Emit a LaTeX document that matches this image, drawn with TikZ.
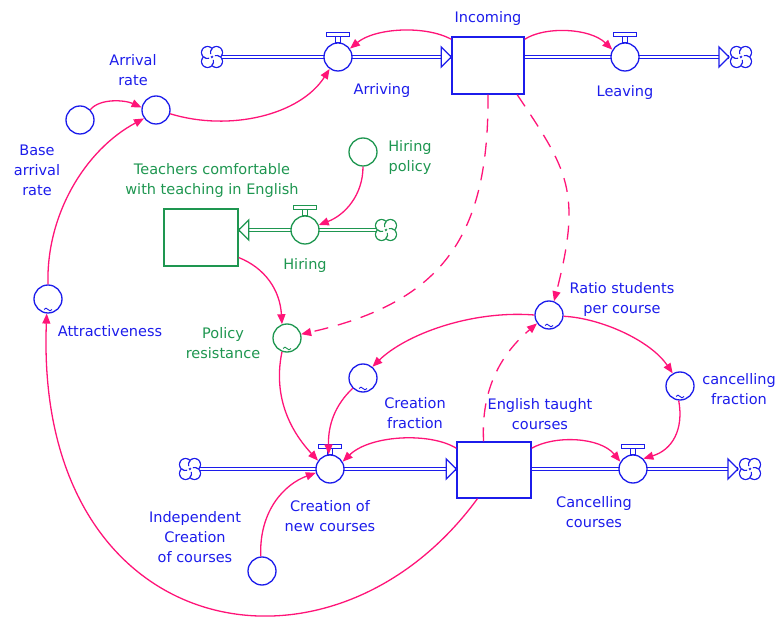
\documentclass[tikz,border=0pt]{standalone}
\usepackage{fontspec}
\setmainfont{DejaVu Sans}
\usetikzlibrary{arrows.meta,backgrounds}
\definecolor{vblue}{RGB}{28,28,235}
\definecolor{vgreen}{RGB}{30,150,80}
\definecolor{vpink}{RGB}{255,20,120}
\tikzset{
 auxb/.style={circle, draw=vblue, line width=1.3pt, minimum size=28pt, inner sep=0pt, fill=white},
 auxg/.style={auxb, draw=vgreen},
 stockb/.style={rectangle, draw=vblue, line width=1.4pt, minimum width=72pt, minimum height=57pt, inner sep=0pt, fill=white},
 stockg/.style={stockb, draw=vgreen},
 lblb/.style={text=vblue, align=center, font=\fontsize{14.5}{20}\selectfont, inner sep=0pt},
 lblg/.style={lblb, text=vgreen},
 link/.style={draw=vpink, line width=1.3pt, -{Triangle[length=10pt,width=8pt]}},
 dlink/.style={link, dash pattern=on 14pt off 10pt},
 pipeb/.style={draw=vblue, double=white, double distance=2.4pt, line width=1.2pt},
 pipeg/.style={pipeb, draw=vgreen},
}
\newcommand\vhandle[2]{%
 \draw[#2, line width=1.1pt, fill=white] ([xshift=-2.5pt]#1.north) rectangle ([xshift=2.5pt,yshift=6pt]#1.north);
 \draw[#2, line width=1.1pt, fill=white] ([xshift=-11.5pt,yshift=6pt]#1.north) rectangle ([xshift=11.5pt,yshift=10pt]#1.north);}
\newcommand\vcloud[2]{%
 \begin{scope}[shift={(#1)}, x=1pt, y=1pt]
  \foreach \a in {45,135,225,315} {\draw[#2, line width=1.3pt, fill=white] (\a:6.3) circle[radius=6];}
  \foreach \a in {45,135,225,315} {\fill[white] (\a:6.3) circle[radius=5.35];}
  \foreach \a in {45,135,225,315} {\draw[#2, line width=1.2pt] ([shift={(\a+95:6)}]\a:6.3) arc[start angle=\a+95, end angle=\a+150, radius=6];}
 \end{scope}}
\newcommand\headright[2]{\draw[#2, line width=1.3pt, fill=white, line join=miter] (#1) -- ++(-10pt,10pt) -- ++(0pt,-20pt) -- cycle;}
\newcommand\headleft[2]{\draw[#2, line width=1.3pt, fill=white, line join=miter] (#1) -- ++(10pt,10pt) -- ++(0pt,-20pt) -- cycle;}
\newcommand\vtilde[2]{\draw[#2, line width=0.9pt] ([xshift=-4pt,yshift=-10.5pt]#1.center) sin ++(2pt,1.3pt) cos ++(2pt,-1.3pt) sin ++(2pt,-1.3pt) cos ++(2pt,1.3pt);}
\begin{document}
\begin{tikzpicture}[x=1pt,y=-1pt]
\useasboundingbox (0,0) rectangle (777,617);
% ---------- nodes ----------
\coordinate (ctl) at (212,57);
\node[auxb] (arr) at (338,57) {};
\node[stockb] (inc) at (488,65.5) {};
\node[auxb] (lea) at (625,57) {};
\coordinate (ctr) at (741,57);
\coordinate (ctrtip) at (729,57);
\node[auxb] (ar) at (156,110) {};
\node[auxb] (base) at (80,120) {};
\node[auxb] (att) at (48,299) {};
\node[stockg, minimum width=74pt] (tea) at (201,237.5) {};
\node[auxg] (hir) at (305,230) {};
\node[auxg] (hp) at (363,152) {};
\coordinate (cg) at (386,230);
\node[auxg] (pr) at (287,338) {};
\coordinate (cbl) at (190,469);
\node[auxb] (cr) at (330,469) {};
\node[stockb, minimum width=74pt, minimum height=56pt] (eng) at (494,470) {};
\node[auxb] (cv) at (633,469) {};
\coordinate (cbr) at (750,469);
\coordinate (cbrtip) at (738,469);
\node[auxb] (cf) at (363,378) {};
\node[auxb] (rs) at (549,315) {};
\node[auxb] (cnf) at (680,386) {};
\node[auxb] (ind) at (262,571) {};
% ---------- pipes ----------
\begin{scope}[on background layer]
\draw[pipeb] (ctl) -- (arr.center) -- (arr -| inc.west);
\draw[pipeb] (inc.east |- lea) -- (lea.center) -- (ctrtip);
\draw[pipeg] (cg) -- (hir.center) -- (hir -| tea.east);
\draw[pipeb] (cbl) -- (cr.center) -- (cr -| eng.west);
\draw[pipeb] (eng.east |- cv) -- (cv.center) -- (cbrtip);
\end{scope}
\headright{arr -| inc.west}{vblue}
\headright{ctrtip}{vblue}
\headleft{hir -| tea.east}{vgreen}
\headright{cr -| eng.west}{vblue}
\headright{cbrtip}{vblue}
\vhandle{arr}{vblue}
\vhandle{lea}{vblue}
\vhandle{hir}{vgreen}
\vhandle{cr}{vblue}
\vhandle{cv}{vblue}
\vcloud{ctl}{vblue}
\vcloud{ctr}{vblue}
\vcloud{cg}{vgreen}
\vcloud{cbl}{vblue}
\vcloud{cbr}{vblue}
\vtilde{att}{vblue}
\vtilde{pr}{vgreen}
\vtilde{cf}{vblue}
\vtilde{rs}{vblue}
\vtilde{cnf}{vblue}
% ---------- labels ----------
\node[lblb] (linc) at (488,19) {Incoming};
\node[lblb] (larr) at (382,91) {Arriving};
\node[lblb] (llea) at (625,93) {Leaving};
\node[lblb] (lar) at (133,70) {Arrival\\rate};
\node[lblb] (lbase) at (37,170) {Base\\arrival\\rate};
\node[lblg] (ltea) at (212,181) {Teachers comfortable\\with teaching in English};
\node[lblg] (lhp) at (410,158) {Hiring\\policy};
\node[lblg] (lhir) at (305,266) {Hiring};
\node[lblg] (lpr) at (223,343) {Policy\\resistance};
\node[lblb] (latt) at (110,331) {Attractiveness};
\node[lblb] (lrs) at (622,300) {Ratio students\\per course};
\node[lblb] (lcnf) at (739,389) {cancelling\\fraction};
\node[lblb] (lcf) at (415,413) {Creation\\fraction};
\node[lblb] (leng) at (540,414) {English taught\\courses};
\node[lblb] (lcr) at (330,516) {Creation of\\new courses};
\node[lblb] (lind) at (195,537) {Independent\\Creation\\of courses};
\node[lblb] (lcv) at (594,512) {Cancelling\\courses};
% ---------- connectors ----------
\draw[link] ([yshift=-3pt]inc.north west) .. controls (425,25) and (375,28) .. (arr.35);
\draw[link] ([yshift=-3pt]inc.north east) .. controls (545,26) and (590,28) .. (lea.150);
\draw[link] (ar.-15) .. controls (230,132) and (300,115) .. (arr.235);
\draw[link] (base.45) .. controls (100,98) and (125,100) .. (ar.170);
\draw[link] (att.north) .. controls (46,215) and (85,150) .. (ar.215);
\draw[link] (eng.240) .. controls (330,700) and (34,643) .. (att.265);
\draw[link] (hp.south) .. controls (363,195) and (345,215) .. (hir.20);
\draw[link] (tea.-28) .. controls (265,268) and (280,290) .. (pr.110);
\draw[dlink] (inc.south) .. controls (489,235) and (444,302) .. (pr.15);
\draw[dlink] (inc.-45) .. controls (567.5,170) and (582.5,191) .. (rs.70);
\draw[link] (pr.-110) .. controls (274,390) and (285,425) .. (cr.145);
\draw[link] (ind.95) .. controls (259,510) and (285,484) .. (cr.195);
\draw[link] (cf.-135) .. controls (335,405) and (328,425) .. (cr.95);
\draw[link] (eng.150) .. controls (430,432) and (370,435) .. (cr.30);
\draw[link] (rs.180) .. controls (470,310) and (405,335) .. (cf.50);
\draw[link] (rs.-5) .. controls (600,318) and (650,340) .. (cnf.120);
\draw[link] (cnf.-95) .. controls (684,430) and (672,450) .. (cv.45);
\draw[link] (eng.30) .. controls (555,435) and (600,437) .. (cv.150);
\draw[dlink] (eng.110) .. controls (481,390) and (500,355) .. (rs.215);
\end{tikzpicture}
\end{document}
